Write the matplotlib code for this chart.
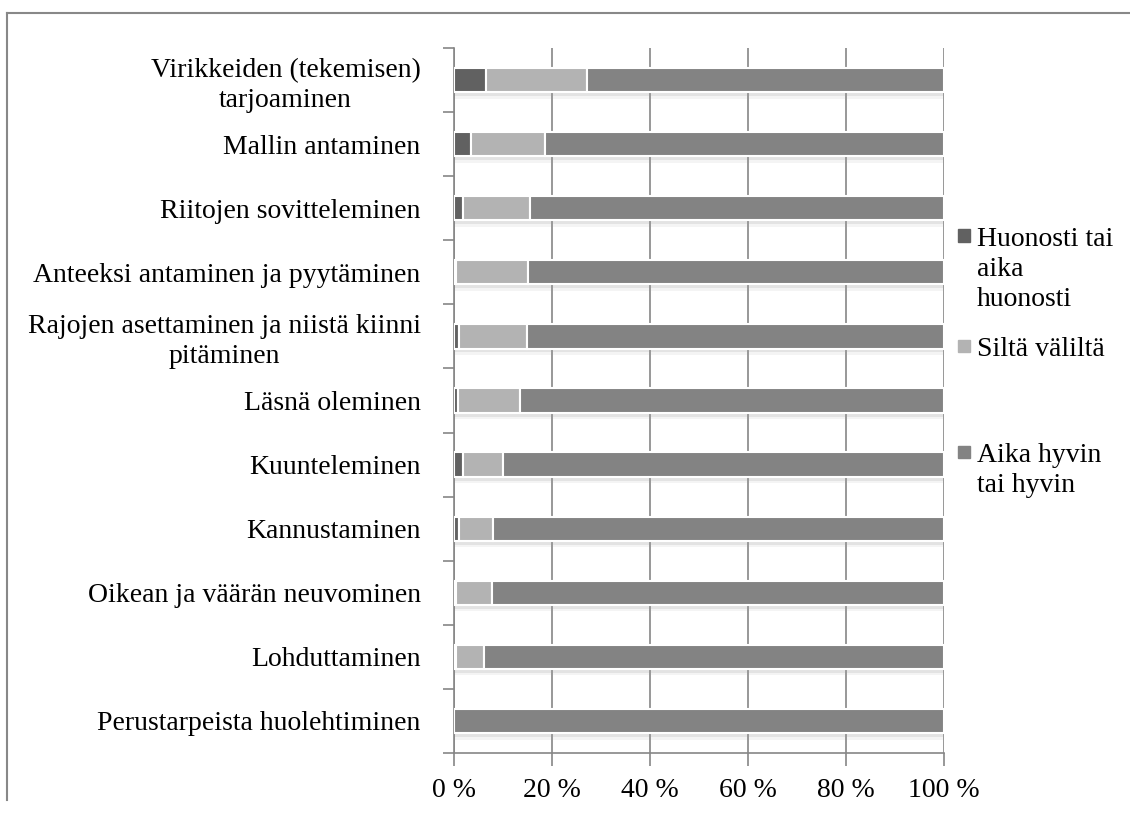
import matplotlib
matplotlib.use("Agg")
import matplotlib.pyplot as plt
from matplotlib.patches import Rectangle
from matplotlib.lines import Line2D

categories = [
    "Virikkeiden (tekemisen)\ntarjoaminen",
    "Mallin antaminen",
    "Riitojen sovitteleminen",
    "Anteeksi antaminen ja pyytäminen",
    "Rajojen asettaminen ja niistä kiinni\npitäminen",
    "Läsnä oleminen",
    "Kuunteleminen",
    "Kannustaminen",
    "Oikean ja väärän neuvominen",
    "Lohduttaminen",
    "Perustarpeista huolehtiminen",
]
huonosti = [6.5, 3.5, 1.8, 0.5, 1.1, 0.9, 1.8, 1.0, 0.5, 0.5, 0.0]
silta = [20.6, 15.0, 13.8, 14.6, 13.7, 12.6, 8.2, 7.0, 7.2, 5.6, 0.0]
hyvin = [72.9, 81.5, 84.4, 84.9, 85.2, 86.5, 90.0, 92.0, 92.3, 93.9, 100.0]
series_names = ["Huonosti tai\naika\nhuonosti", "Siltä väliltä", "Aika hyvin\ntai hyvin"]
colors = ["#616161", "#b3b3b3", "#838383"]
xticks = [0, 20, 40, 60, 80, 100]
xticklabels = ["0 %", "20 %", "40 %", "60 %", "80 %", "100 %"]

plt.rcParams['font.family'] = ['Liberation Serif', 'DejaVu Serif']
FS = 20
W, H = 1130, 827
fig = plt.figure(figsize=(W / 100, H / 100), dpi=100)
ax = fig.add_axes([454 / W, 1 - 753 / H, 490 / W, 705 / H])

gray = "#868686"
y = list(range(len(categories)))
bh = 0.38
# shadow
for off, a in [(0.06, 0.18), (0.10, 0.10)]:
    ax.barh([v + off for v in y], [100] * len(y), height=bh, color="#9a9a9a",
            alpha=a, linewidth=0, zorder=2)
left = [0.0] * len(y)
for vals, c in zip([huonosti, silta, hyvin], colors):
    ax.barh(y, vals, left=left, height=bh, color=c, edgecolor="white",
            linewidth=1.5, zorder=3)
    left = [l + v for l, v in zip(left, vals)]

ax.set_xlim(0, 100)
ax.set_ylim(len(y) - 0.5, -0.5)
ax.set_xticks(xticks)
ax.set_xticklabels(xticklabels, fontsize=FS)
ax.set_yticks(y)
ax.set_yticklabels(categories, fontsize=FS, multialignment="center", linespacing=1.24)
ax.set_yticks([v - 0.5 for v in range(len(y) + 1)], minor=True)
ax.tick_params(axis="y", which="major", length=0, pad=24)
ax.tick_params(axis="y", which="minor", length=8, color=gray, width=1.2)
ax.tick_params(axis="x", which="major", length=9, color=gray, width=1.2, pad=9)
ax.grid(axis="x", color=gray, linewidth=1.2, zorder=1)
ax.set_axisbelow(True)
for s in ["top", "right"]:
    ax.spines[s].set_visible(False)
for s in ["left", "bottom"]:
    ax.spines[s].set_color(gray)
    ax.spines[s].set_linewidth(1.2)

# legend
leg_items = [(235.5, series_names[0]), (346, series_names[1]), (452, series_names[2])]
for (yc, name), c in zip(leg_items, colors):
    fig.patches.append(Rectangle((958 / W, 1 - (yc + 6) / H), 12 / W, 12 / H,
                                 transform=fig.transFigure, color=c))
    fig.text(977 / W, 1 - (yc - 9) / H, name, fontsize=FS, va="top", ha="left",
             linespacing=1.28)

# border
fig.add_artist(Line2D([7 / W, 1], [1 - 13 / H, 1 - 13 / H], transform=fig.transFigure,
                      color="#888888", linewidth=1.5))
fig.add_artist(Line2D([7 / W, 7 / W], [1 - 13 / H, 1 - 800 / H], transform=fig.transFigure,
                      color="#888888", linewidth=1.5))

fig.savefig("out.png", dpi=100)
